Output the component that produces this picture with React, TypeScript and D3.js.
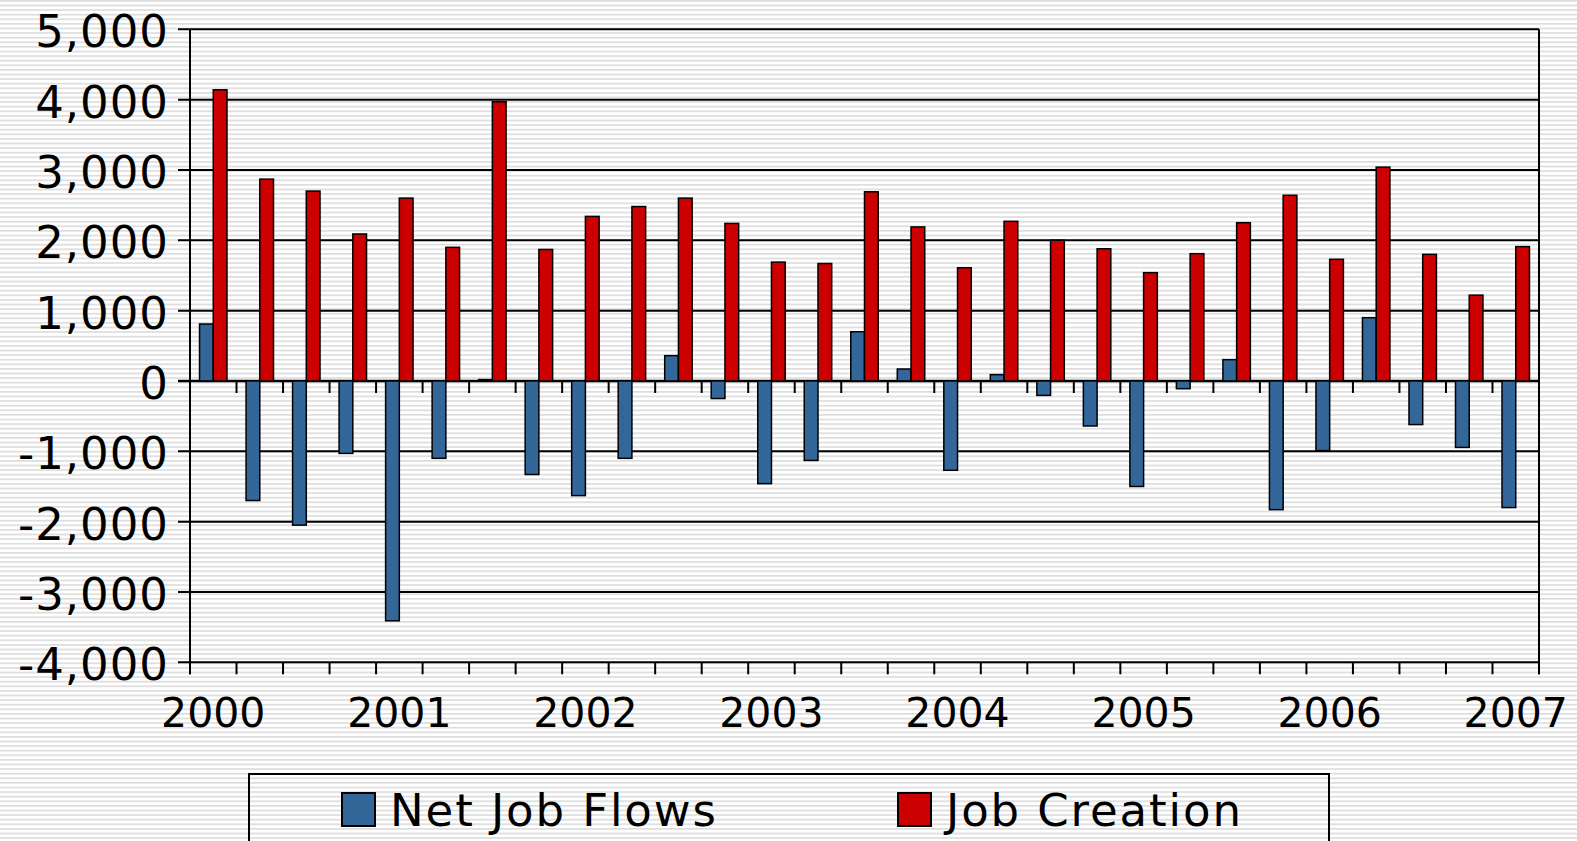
import React from "react";
import * as d3 from "d3";

const quarters: string[] = [
  "2000Q1","2000Q2","2000Q3","2000Q4",
  "2001Q1","2001Q2","2001Q3","2001Q4",
  "2002Q1","2002Q2","2002Q3","2002Q4",
  "2003Q1","2003Q2","2003Q3","2003Q4",
  "2004Q1","2004Q2","2004Q3","2004Q4",
  "2005Q1","2005Q2","2005Q3","2005Q4",
  "2006Q1","2006Q2","2006Q3","2006Q4",
  "2007Q1",
];

const netJobFlows: number[] = [
  810, -1700, -2050, -1030, -3410, -1100, 20, -1330,
  -1630, -1100, 360, -250, -1460, -1130, 700, 170,
  -1270, 90, -205, -640, -1500, -110, 303, -1830,
  -990, 900, -620, -945, -1800,
];

const jobCreation: number[] = [
  4140, 2870, 2700, 2090, 2600, 1900, 3970, 1870,
  2340, 2480, 2600, 2240, 1690, 1670, 2690, 2190,
  1610, 2270, 2000, 1880, 1540, 1810, 2250, 2640,
  1730, 3040, 1800, 1220, 1910,
];

const yTicks: number[] = [5000, 4000, 3000, 2000, 1000, 0, -1000, -2000, -3000, -4000];
const seriesNames: string[] = ["Net Job Flows", "Job Creation"];
const seriesColors: string[] = ["#336699", "#CC0000"];

const W = 1577;
const H = 841;
const L = 190;
const R = 1539;
const T = 29.3;
const B = 662.3;

export default function App() {
  const y = d3.scaleLinear().domain([-4000, 5000]).range([B, T]);
  const x0 = d3
    .scaleBand<string>()
    .domain(quarters)
    .range([L, R])
    .paddingInner(0.41)
    .paddingOuter(0.205);
  const x1 = d3
    .scaleBand<string>()
    .domain(seriesNames)
    .range([0, x0.bandwidth()]);
  const step = x0.step();
  const fmt = (v: number) => d3.format(",")(v).replace("\u2212", "-");
  const y0 = y(0);
  const font = "'DejaVu Sans', Verdana, sans-serif";

  const rows = quarters.map((q, i) => ({ q, vals: [netJobFlows[i], jobCreation[i]] }));

  return (
    <svg
      width={W}
      height={H}
      style={{ position: "absolute", left: 0, top: 0, display: "block" }}
    >
      <defs>
        <pattern id="stripes" patternUnits="userSpaceOnUse" width={10} height={4.6}>
          <rect x={0} y={0} width={10} height={4.6} fill="#ffffff" />
          <rect x={0} y={0} width={10} height={1.7} fill="#dddddd" />
        </pattern>
      </defs>
      <rect x={0} y={0} width={W} height={H} fill="url(#stripes)" />

      {/* gridlines */}
      {yTicks.map((t) => (
        <line
          key={"g" + t}
          x1={L - 12}
          x2={R}
          y1={y(t)}
          y2={y(t)}
          stroke="#000"
          strokeWidth={t === 0 ? 2.5 : 2}
        />
      ))}
      {/* axis lines */}
      <line x1={L} x2={L} y1={T} y2={B + 12} stroke="#000" strokeWidth={2} />
      <line x1={R} x2={R} y1={T} y2={B + 12} stroke="#000" strokeWidth={2} />

      {/* category ticks at zero line and bottom */}
      {d3.range(quarters.length + 1).map((i) => {
        const xx = L + i * step;
        return (
          <g key={"t" + i}>
            <line x1={xx} x2={xx} y1={y0} y2={y0 + 12} stroke="#000" strokeWidth={2} />
            <line x1={xx} x2={xx} y1={B} y2={B + 12} stroke="#000" strokeWidth={2} />
          </g>
        );
      })}

      {/* bars */}
      {rows.map((r) => (
        <g key={r.q} transform={`translate(${x0(r.q)},0)`}>
          {r.vals.map((v, j) => (
            <rect
              key={j}
              x={x1(seriesNames[j])}
              y={Math.min(y(v), y0)}
              width={x1.bandwidth()}
              height={Math.abs(y(v) - y0)}
              fill={seriesColors[j]}
              stroke="#000"
              strokeWidth={1.5}
            />
          ))}
        </g>
      ))}

      {/* y labels */}
      {yTicks.map((t) => (
        <text
          key={"yl" + t}
          x={169}
          y={y(t) + 18}
          textAnchor="end"
          fontFamily={font}
          fontSize={45}
          letterSpacing={1}
          fill="#000"
        >
          {fmt(t)}
        </text>
      ))}

      {/* x labels */}
      {quarters.map((q, i) =>
        i % 4 === 0 ? (
          <text
            key={"xl" + q}
            x={(x0(q) as number) + x0.bandwidth() / 2}
            y={B + 64.5}
            textAnchor="middle"
            fontFamily={font}
            fontSize={41}
            fill="#000"
          >
            {q.slice(0, 4)}
          </text>
        ) : null
      )}

      {/* legend */}
      <rect x={249} y={774} width={1080} height={120} fill="none" stroke="#000" strokeWidth={2} />
      {seriesNames.map((s, j) => {
        const lx = j === 0 ? 342 : 898;
        return (
          <g key={"lg" + s}>
            <rect x={lx} y={793} width={33} height={33} fill={seriesColors[j]} stroke="#000" strokeWidth={2} />
            <text
              x={lx + 48}
              y={826}
              fontFamily={font}
              fontSize={45}
              letterSpacing={1.9}
              fill="#000"
            >
              {s}
            </text>
          </g>
        );
      })}
    </svg>
  );
}
